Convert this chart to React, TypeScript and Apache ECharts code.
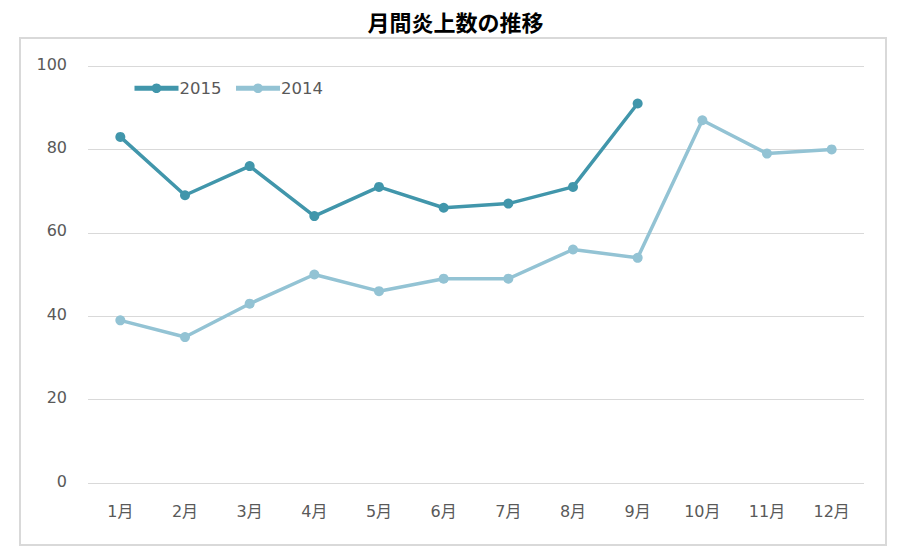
import React, { useEffect, useRef } from "react";
import * as echarts from "echarts";

const months = ["1月", "2月", "3月", "4月", "5月", "6月", "7月", "8月", "9月", "10月", "11月", "12月"];
const series2015 = [83, 69, 76, 64, 71, 66, 67, 71, 91];
const series2014 = [39, 35, 43, 50, 46, 49, 49, 56, 54, 87, 79, 80];
const title = "月間炎上数の推移";

const c2015 = "#4196ab";
const c2014 = "#93c3d4";
const font = "'DejaVu Sans', 'Noto Sans CJK JP', sans-serif";

export default function App() {
  const ref = useRef<HTMLDivElement>(null);
  useEffect(() => {
    document.body.style.margin = "0";
    const chart = echarts.init(ref.current!, undefined, { renderer: "svg" });
    chart.setOption({
      animation: false,
      backgroundColor: "#ffffff",
      title: {
        text: title,
        left: "center",
        top: 5,
        textStyle: { fontFamily: "'Noto Sans CJK JP', sans-serif", fontSize: 22, fontWeight: "bold", color: "#000" },
      },
      graphic: [
        {
          type: "rect",
          z: -10,
          silent: true,
          shape: { x: 20, y: 38, width: 866, height: 507 },
          style: { fill: "#fff", stroke: "#d9d9d9", lineWidth: 2 },
        },
      ],
      legend: {
        left: 127,
        top: 75,
        itemWidth: 44,
        itemHeight: 12,
        itemGap: 12,
        lineStyle: { width: 5 },
        textStyle: { fontFamily: font, fontSize: 16.5, color: "#595959", padding: [0, 0, 0, -4] },
        data: ["2015", "2014"],
      },
      grid: { left: 88, right: 47, top: 66, bottom: 77, containLabel: false },
      xAxis: {
        type: "category",
        data: months,
        boundaryGap: true,
        axisLine: { show: false },
        axisTick: { show: false },
        axisLabel: { color: "#595959", fontFamily: font, fontSize: 16, margin: 20 },
      },
      yAxis: {
        type: "value",
        min: 0,
        max: 100,
        interval: 20,
        axisLine: { show: false },
        axisTick: { show: false },
        axisLabel: { color: "#595959", fontFamily: font, fontSize: 16, margin: 21, verticalAlign: "bottom", padding: [0, 0, -6, 0] },
        splitLine: { lineStyle: { color: "#d9d9d9", width: 1 } },
      },
      series: [
        {
          name: "2015",
          type: "line",
          data: series2015,
          symbol: "circle",
          symbolSize: 10,
          lineStyle: { color: c2015, width: 3.5 },
          itemStyle: { color: c2015 },
        },
        {
          name: "2014",
          type: "line",
          data: series2014,
          symbol: "circle",
          symbolSize: 10,
          lineStyle: { color: c2014, width: 3.5 },
          itemStyle: { color: c2014 },
        },
      ],
    });
    return () => chart.dispose();
  }, []);
  return <div ref={ref} style={{ position: "absolute", left: 0, top: 0, width: 911, height: 560 }} />;
}
